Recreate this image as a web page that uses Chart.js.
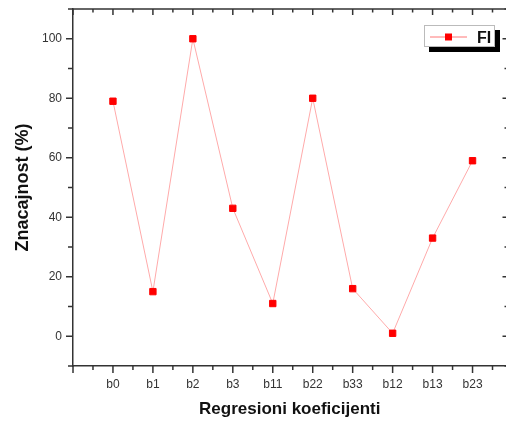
<!DOCTYPE html>
<html>
<head>
<meta charset="utf-8">
<script src="https://cdn.jsdelivr.net/npm/chart.js@4/dist/chart.umd.min.js"></script>
<style>
  html, body { margin: 0; padding: 0; background: #fff; overflow: hidden; }
  #wrap { width: 512px; height: 421px; }
</style>
</head>
<body>
<div id="wrap"><canvas id="chart" width="512" height="421"></canvas></div>
<script>
// Coefficient names along the x axis
var categories = ['b0', 'b1', 'b2', 'b3', 'b11', 'b22', 'b33', 'b12', 'b13', 'b23'];
// Significance of each coefficient (%)
var fiValues = [79, 15, 100, 43, 11, 80, 16, 1, 33, 59];
// Labelled ticks on the y axis
var yTicks = [0, 20, 40, 60, 80, 100];

var axisColor = '#333';
var fontFamily = '"Liberation Sans", Arial, sans-serif';

// Points sit at x = 1..n so there is a free slot before the first one
var points = fiValues.map(function(v, i) { return { x: i + 1, y: v }; });

// Tick marks on all four sides, majors and minors like an Origin frame
var frameTicks = {
    id: 'frameTicks',
    afterDraw: function(chart) {
        var ctx = chart.ctx, a = chart.chartArea;
        var xs = chart.scales.x, ys = chart.scales.y;
        function seg(x1, y1, x2, y2) {
            ctx.beginPath(); ctx.moveTo(x1, y1); ctx.lineTo(x2, y2); ctx.stroke();
        }
        ctx.save();
        ctx.strokeStyle = axisColor;
        ctx.lineWidth = 1.5;
        for (var v = 0; v <= xs.max; v += 0.5) {
            var px = xs.getPixelForValue(v);
            var major = v % 1 === 0;
            seg(px, a.bottom, px, a.bottom + (major ? 7 : 4));
            seg(px, a.top, px, a.top + (major ? 6 : 3.5));
        }
        for (var w = -10; w <= 110; w += 10) {
            var py = ys.getPixelForValue(w);
            var big = w % 20 === 0;
            seg(a.left - (big ? 7 : 5), py, a.left, py);
            seg(a.right - (big ? 4 : 2), py, a.right, py);
        }
        // top edge of the frame
        seg(a.left, a.top, a.right, a.top);
        ctx.restore();
    }
};

// Boxed legend with a hard drop shadow
var boxLegend = {
    id: 'boxLegend',
    afterDraw: function(chart) {
        var ctx = chart.ctx;
        var ds = chart.data.datasets[0];
        var x = 424, y = 25, w = 71, h = 22;
        ctx.save();
        ctx.fillStyle = '#000';
        ctx.fillRect(x + 5, y + 5, w, h);
        ctx.fillStyle = '#fff';
        ctx.fillRect(x, y, w, h);
        ctx.strokeStyle = '#bbb';
        ctx.lineWidth = 1;
        ctx.strokeRect(x + 0.5, y + 0.5, w - 1, h - 1);
        ctx.strokeStyle = '#ff7777';
        ctx.beginPath(); ctx.moveTo(x + 6, y + 12); ctx.lineTo(x + 43, y + 12); ctx.stroke();
        ctx.fillStyle = ds.pointBackgroundColor;
        ctx.fillRect(x + 21, y + 8.5, 7, 7);
        ctx.fillStyle = '#111';
        ctx.font = 'bold 16px ' + fontFamily;
        ctx.textBaseline = 'alphabetic';
        ctx.fillText(ds.label, x + 53, y + 18);
        ctx.restore();
    }
};

var ctx = document.getElementById('chart').getContext('2d');

var fiChart = new Chart(ctx, {
    type: 'line',
    data: {
        datasets: [{
            label: 'FI',
            data: points,
            borderColor: '#ffaaaa',
            borderWidth: 1,
            pointStyle: 'rect',
            pointRadius: 4.5,
            pointBorderWidth: 1,
            pointBackgroundColor: '#ff0000',
            pointBorderColor: '#ff0000',
            tension: 0
        }]
    },
    options: {
        responsive: false,
        animation: false,
        layout: { padding: { top: 9, right: 5, bottom: 0, left: 0 } },
        plugins: {
            legend: { display: false },
            tooltip: { enabled: false }
        },
        scales: {
            x: {
                type: 'linear',
                min: 0,
                max: 10.85,
                afterFit: function(s) {
                    s.height = 55;
                    s.paddingLeft = 0;
                    s.paddingRight = 0;
                },
                afterBuildTicks: function(s) {
                    s.ticks = categories.map(function(c, i) { return { value: i + 1 }; });
                },
                ticks: {
                    padding: 11,
                    color: '#333',
                    font: { family: fontFamily, size: 12 },
                    maxRotation: 0,
                    autoSkip: false,
                    callback: function(v) { return categories[v - 1]; }
                },
                grid: { display: false, drawTicks: false },
                border: { display: true, color: axisColor, width: 1.5 },
                title: {
                    display: true,
                    text: 'Regresioni koeficijenti',
                    color: '#111',
                    font: { family: fontFamily, size: 17, weight: 'bold' },
                    padding: { top: 0, bottom: 1 }
                }
            },
            y: {
                min: -10,
                max: 110,
                afterFit: function(s) {
                    s.width = 73;
                    s.paddingTop = 0;
                    s.paddingBottom = 0;
                },
                afterBuildTicks: function(s) {
                    s.ticks = yTicks.map(function(v) { return { value: v }; });
                },
                ticks: {
                    padding: 11,
                    color: '#333',
                    font: { family: fontFamily, size: 12 }
                },
                grid: { display: false, drawTicks: false },
                border: { display: true, color: axisColor, width: 1.5 },
                title: {
                    display: true,
                    text: 'Znacajnost (%)',
                    color: '#111',
                    font: { family: fontFamily, size: 18, weight: 'bold' },
                    padding: { top: 12, bottom: 0 }
                }
            }
        }
    },
    plugins: [frameTicks, boxLegend]
});
</script>
</body>
</html>
